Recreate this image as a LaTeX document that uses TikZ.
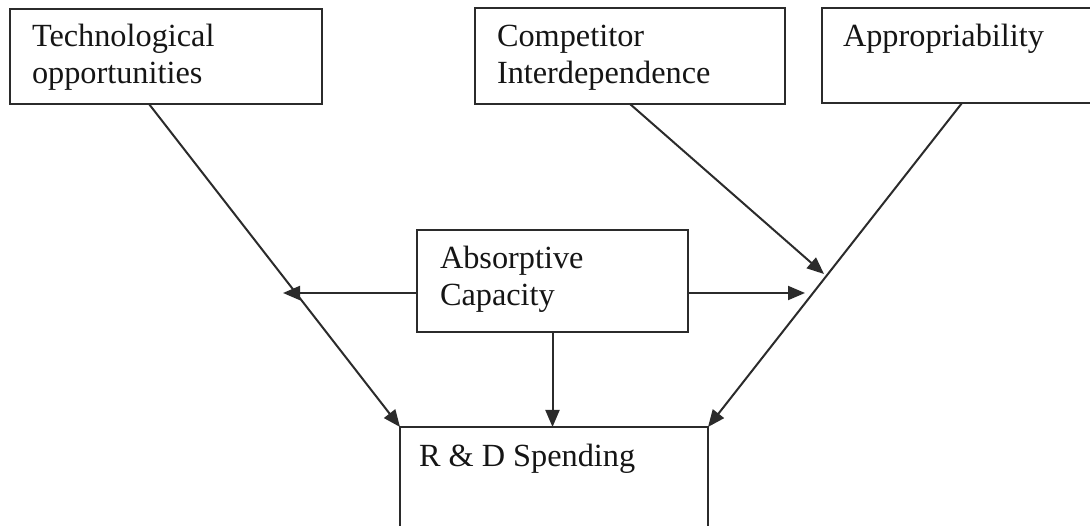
\documentclass[tikz,border=0pt]{standalone}
\usepackage{fontspec}
\setmainfont{Liberation Serif}
\usetikzlibrary{arrows.meta,calc}
\definecolor{ink}{HTML}{2B2B2B}
\definecolor{txt}{HTML}{151515}
\tikzset{
  box/.style={draw=ink, line width=2.4pt, rectangle, inner sep=0pt, outer sep=0pt, anchor=north west},
  lbl/.style={text=txt, inner sep=0pt, outer sep=0pt, align=left, anchor=base west,
              font=\fontsize{32.3}{37}\selectfont},
  link/.style={draw=ink, line width=2pt, -{Triangle[length=17pt,width=14pt]}},
}
\begin{document}
\begin{tikzpicture}[x=1pt,y=-1pt]
  \useasboundingbox (0,0) rectangle (1090,526);
  \clip (0,0) rectangle (1090,526);

  % boxes
  \node[box, minimum width=312pt, minimum height=95pt] (tech) at (10,9) {};
  \node[box, minimum width=310pt, minimum height=96pt] (comp) at (475,8) {};
  \node[box, minimum width=275pt, minimum height=95pt] (appr) at (822,8) {};
  \node[box, minimum width=271pt, minimum height=102pt] (absc) at (417,230) {};
  \node[box, minimum width=308pt, minimum height=120pt] (rnd) at (400,427) {};

  % labels (base anchor sits on the last line)
  \node[lbl] (techL) at (32,84) {Technological\\opportunities};
  \node[lbl] (compL) at (497,84) {Competitor\\Interdependence};
  \node[lbl] (apprL) at (843,47) {Appropriability};
  \node[lbl] (abscL) at (440,306) {Absorptive\\Capacity};
  \node[lbl] (rndL) at (419,467) {R \& D Spending};

  % moderation points on the diagonals
  \coordinate (jl) at (283,293);
  \coordinate (jr) at (805,293);
  \coordinate (jc) at (824,274);

  % connectors
  \draw[link] ($(tech.south west)+(139,0)$) -- (rnd.north west);
  \draw[link] ($(appr.south west)+(140,0)$) -- (rnd.north east);
  \draw[link] (absc.south) -- (absc.south |- rnd.north);
  \draw[link] ($(absc.west)+(0,12)$) -- (jl);
  \draw[link] ($(absc.east)+(0,12)$) -- (jr);
  \draw[link] ($(comp.south west)+(155,0)$) -- (jc);
\end{tikzpicture}
\end{document}
